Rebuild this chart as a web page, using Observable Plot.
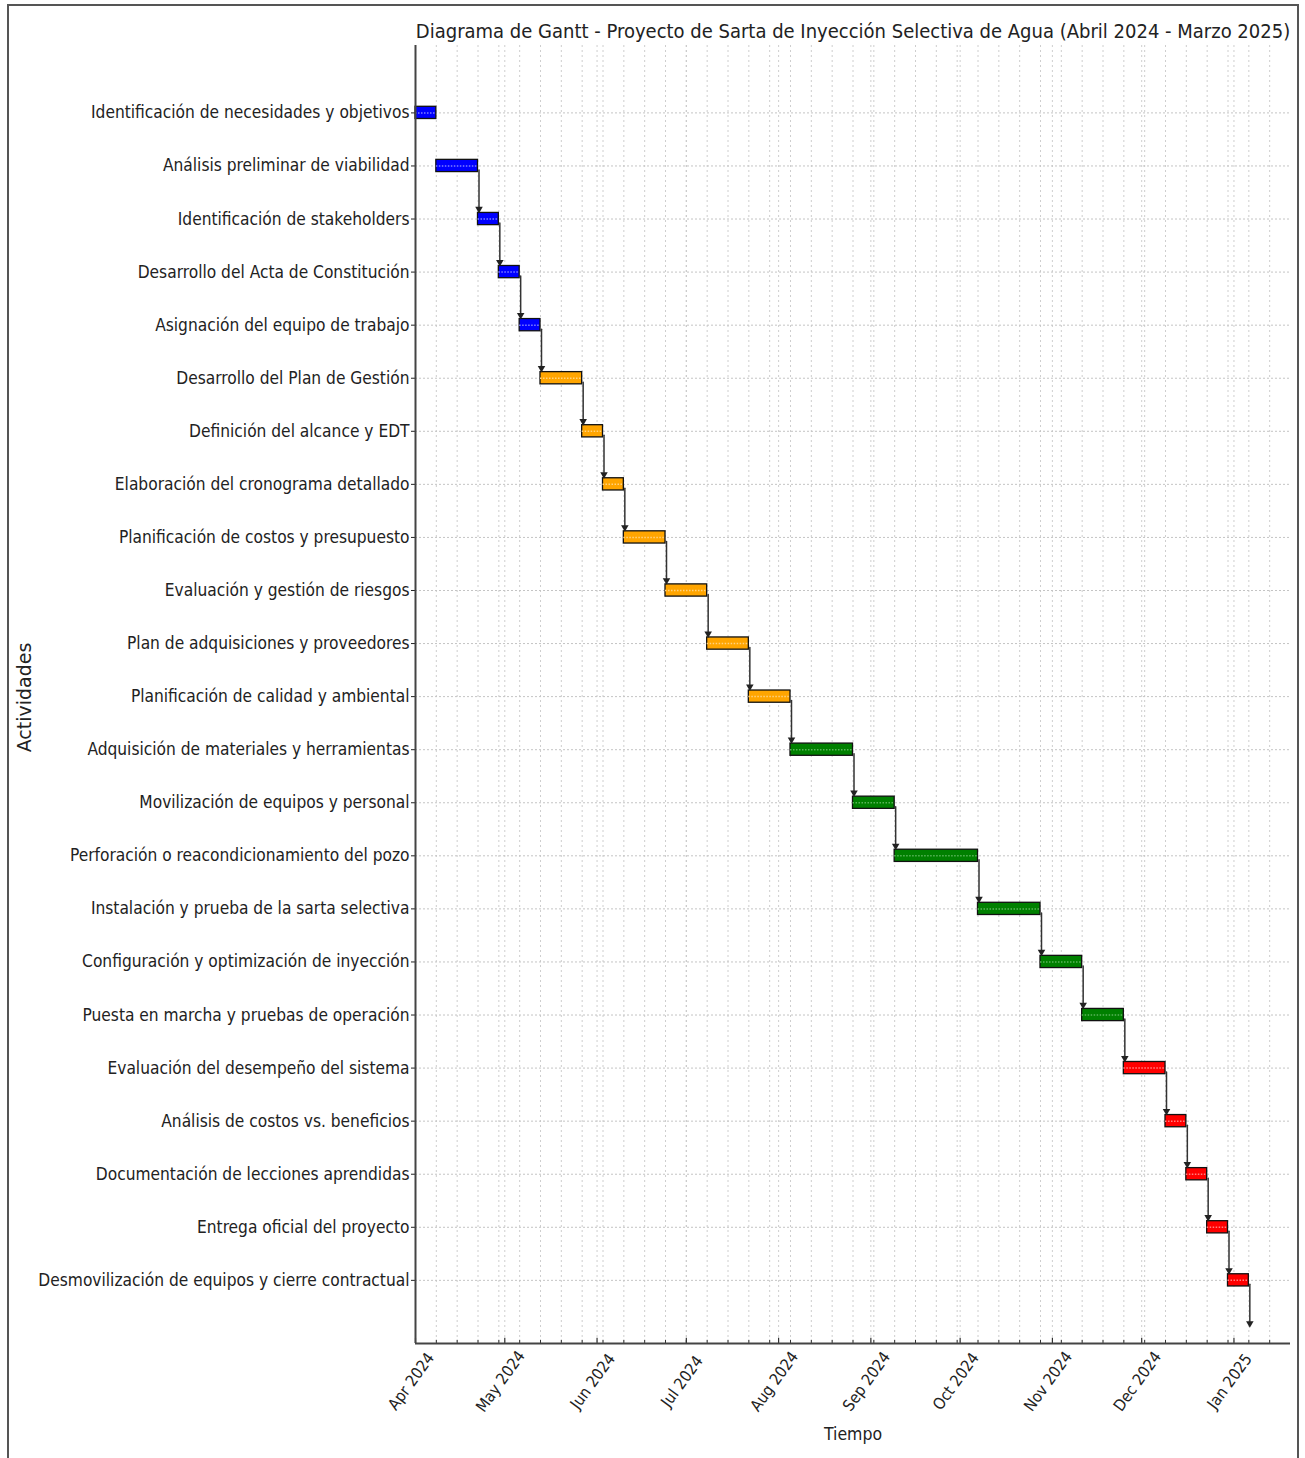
<!DOCTYPE html>
<html><head><meta charset="utf-8">
<script src="https://cdn.jsdelivr.net/npm/d3@7"></script>
<script src="https://cdn.jsdelivr.net/npm/@observablehq/plot@0.6"></script>
<style>
body{margin:0;background:#fff;}
#wrap{position:relative;width:1305px;height:1458px;overflow:hidden;background:#fff;}
#border{position:absolute;left:7px;top:4px;width:1292px;height:1480px;border:2px solid #555;box-sizing:border-box;}
#chart{position:absolute;left:0;top:0;}
</style></head><body>
<div id="wrap"><div id="border"></div><div id="chart"></div></div>
<script>
const tasks = [
  "Identificación de necesidades y objetivos",
  "Análisis preliminar de viabilidad",
  "Identificación de stakeholders",
  "Desarrollo del Acta de Constitución",
  "Asignación del equipo de trabajo",
  "Desarrollo del Plan de Gestión",
  "Definición del alcance y EDT",
  "Elaboración del cronograma detallado",
  "Planificación de costos y presupuesto",
  "Evaluación y gestión de riesgos",
  "Plan de adquisiciones y proveedores",
  "Planificación de calidad y ambiental",
  "Adquisición de materiales y herramientas",
  "Movilización de equipos y personal",
  "Perforación o reacondicionamiento del pozo",
  "Instalación y prueba de la sarta selectiva",
  "Configuración y optimización de inyección",
  "Puesta en marcha y pruebas de operación",
  "Evaluación del desempeño del sistema",
  "Análisis de costos vs. beneficios",
  "Documentación de lecciones aprendidas",
  "Entrega oficial del proyecto",
  "Desmovilización de equipos y cierre contractual"
];
const starts = [
  "2024-04-01","2024-04-08","2024-04-22","2024-04-29","2024-05-06",
  "2024-05-13","2024-05-27","2024-06-03","2024-06-10","2024-06-24",
  "2024-07-08","2024-07-22","2024-08-05","2024-08-26","2024-09-09",
  "2024-10-07","2024-10-28","2024-11-11","2024-11-25","2024-12-09",
  "2024-12-16","2024-12-23","2024-12-30"
];
const ends = [
  "2024-04-08","2024-04-22","2024-04-29","2024-05-06","2024-05-13",
  "2024-05-27","2024-06-03","2024-06-10","2024-06-24","2024-07-08",
  "2024-07-22","2024-08-05","2024-08-26","2024-09-09","2024-10-07",
  "2024-10-28","2024-11-11","2024-11-25","2024-12-09","2024-12-16",
  "2024-12-23","2024-12-30","2025-01-06"
];
const phases = [
  "Inicio","Inicio","Inicio","Inicio","Inicio",
  "Planificación","Planificación","Planificación","Planificación","Planificación","Planificación","Planificación",
  "Ejecución","Ejecución","Ejecución","Ejecución","Ejecución","Ejecución",
  "Cierre","Cierre","Cierre","Cierre","Cierre"
];
const phaseNames = ["Inicio","Planificación","Ejecución","Cierre"];
const phaseColors = ["#0000ff","#ffa500","#008000","#ff0000"];
const phaseHatch = ["#7f7fff","#ffd27f","#59b359","#ff8080"];
const monthTicks = ["2024-04-01","2024-05-01","2024-06-01","2024-07-01","2024-08-01","2024-09-01","2024-10-01","2024-11-01","2024-12-01","2025-01-01"];
const monthLabels = ["Apr 2024","May 2024","Jun 2024","Jul 2024","Aug 2024","Sep 2024","Oct 2024","Nov 2024","Dec 2024","Jan 2025"];
const titleText = "Diagrama de Gantt - Proyecto de Sarta de Inyección Selectiva de Agua (Abril 2024 - Marzo 2025)";
const xLabel = "Tiempo";
const yLabel = "Actividades";

const data = tasks.map((name, i) => ({
  name, row: i, start: new Date(starts[i]), end: new Date(ends[i]), phase: phases[i]
}));
// dependency arrows: from each bar's end down to the next row (none after the first activity)
const arrows = data.slice(1).map(d => ({x: d.end, y1: d.row, y2: d.row + 1}));
const rows = d3.range(tasks.length);
const months = monthTicks.map(s => new Date(s));
const weeks = d3.utcMonday.range(new Date("2024-04-01"), new Date("2025-01-19"));
const xDomain = [new Date("2024-04-01"), new Date("2025-01-20")];
const yDomain = [-1.27, 23.19];
const yB = yDomain[1];
const hatchOf = p => phaseHatch[phaseNames.indexOf(p)];

const condensed = "'DejaVu Sans Condensed', 'DejaVu Sans', sans-serif";

const chart = Plot.plot({
  width: 1305, height: 1458,
  marginLeft: 415, marginRight: 15, marginTop: 45, marginBottom: 115,
  style: {fontFamily: condensed, fontSize: "17px", color: "#222", background: "transparent", overflow: "visible"},
  x: {type: "utc", domain: xDomain, axis: null},
  y: {domain: yDomain, reverse: true},
  color: {domain: phaseNames, range: phaseColors},
  marks: [
    Plot.gridX([...weeks, ...months], {stroke: "#c8c8c8", strokeOpacity: 1, strokeDasharray: "2,3", strokeWidth: 0.9}),
    Plot.gridY(rows, {stroke: "#c4c4c4", strokeOpacity: 1, strokeDasharray: "2,2", strokeWidth: 1}),
    Plot.axisY(rows, {tickFormat: i => tasks[i], tickSize: 4, tickPadding: 2, label: null, fontSize: 17.2}),
    Plot.ruleX(weeks, {x: d => d, y1: yB, y2: yB - 0.06, stroke: "#333", strokeWidth: 1}),
    Plot.ruleX(months, {x: d => d, y1: yB, y2: yB - 0.1, stroke: "#333", strokeWidth: 1.2}),
    Plot.rect(data, {x1: "start", x2: "end", y1: d => d.row - 0.115, y2: d => d.row + 0.115, fill: "phase", stroke: "#111", strokeWidth: 1.3}),
    Plot.ruleY(data, {y: "row", x1: "start", x2: "end", stroke: d => hatchOf(d.phase), strokeDasharray: "1.5,1.5", strokeWidth: 1.5}),
    Plot.arrow(arrows, {x1: "x", x2: "x", y1: "y1", y2: "y2", headLength: 0, insetStart: 4, insetEnd: 12, stroke: "#333", strokeWidth: 1.5, dx: 1}),
    Plot.dot(arrows, {x: "x", y: "y2", symbol: "triangle", rotate: 180, r: 2.8, fill: "#222", stroke: "none", dx: 1, dy: -10}),
    Plot.ruleX([xDomain[0]], {stroke: "#444", strokeWidth: 2}),
    Plot.ruleY([yB], {stroke: "#444", strokeWidth: 2}),
    Plot.text(months, {x: d => d, text: (d, i) => monthLabels[i], frameAnchor: "bottom", dy: 41, rotate: -54, fontSize: 16, fill: "#222"}),
    Plot.text([titleText], {frameAnchor: "top", dy: -22, fontSize: 20, fill: "#222"}),
    Plot.text([xLabel], {frameAnchor: "bottom", dy: 96, fontSize: 17.5, fill: "#222"}),
    Plot.text([yLabel], {frameAnchor: "left", textAnchor: "middle", dx: -391, dy: 3, rotate: -90, fontSize: 19, fontFamily: "'DejaVu Sans', sans-serif", fill: "#222"})
  ]
});
document.getElementById("chart").appendChild(chart);
</script>
</body></html>
